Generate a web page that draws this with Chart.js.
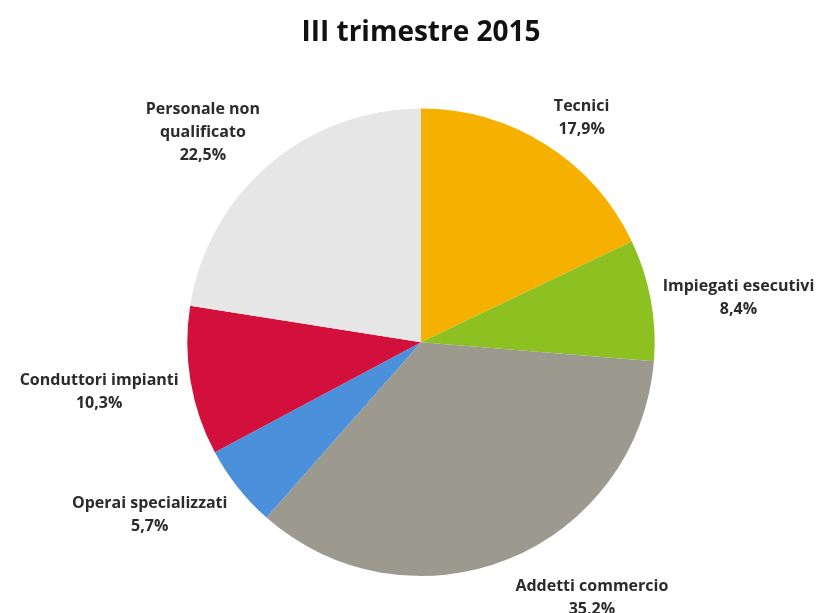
<!DOCTYPE html>
<html>
<head>
<meta charset="utf-8">
<script src="https://cdn.jsdelivr.net/npm/chart.js@4.4.0/dist/chart.umd.min.js"></script>
<style>
    html, body { margin: 0; padding: 0; background: #ffffff; }
    #wrap { width: 822px; height: 613px; }
</style>
</head>
<body>
<div id="wrap"><canvas id="pieChart" width="822" height="613"></canvas></div>
<script>
// Chart data
const categories = ['Tecnici', 'Impiegati esecutivi', 'Addetti commercio', 'Operai specializzati', 'Conduttori impianti', 'Personale non qualificato'];
const labelLines = [['Tecnici'], ['Impiegati esecutivi'], ['Addetti commercio'], ['Operai specializzati'], ['Conduttori impianti'], ['Personale non', 'qualificato']];
const shares = [17.9, 8.4, 35.2, 5.7, 10.3, 22.5];
const sliceColors = ['#F6B000', '#8DC021', '#9C9A8F', '#4A90DA', '#D2103B', '#E6E6E6'];
const chartTitle = 'III trimestre 2015';

const LABEL_FONT = 'bold 16px "Open Sans", sans-serif';
const LINE_H = 23;

// Outside-end labels, placed like a spreadsheet pie
const outsideLabels = {
    id: 'outsideLabels',
    afterDatasetsDraw(chart) {
        const ctx = chart.ctx;
        const meta = chart.getDatasetMeta(0);
        ctx.save();
        ctx.font = LABEL_FONT;
        ctx.fillStyle = '#2b2b2b';
        ctx.textAlign = 'center';
        ctx.textBaseline = 'middle';
        meta.data.forEach((arc, i) => {
            const mid = (arc.startAngle + arc.endAngle) / 2;
            const r = arc.outerRadius + 8;
            const ax = arc.x + Math.cos(mid) * r;
            const ay = arc.y + Math.sin(mid) * r;
            const lines = labelLines[i].concat([shares[i].toFixed(1).replace('.', ',') + '%']);
            const w = Math.max(...lines.map(l => ctx.measureText(l).width));
            const h = lines.length * LINE_H;
            const s = Math.max(-1, Math.min(1, Math.cos(mid) * 3));
            const left = ax - w * (1 - s) / 2 + s * 4;
            const top = ay - h * (1 - Math.sin(mid)) / 2 + 5 + 6 * Math.sin(mid);
            lines.forEach((line, k) => {
                ctx.fillText(line, left + w / 2, top + LINE_H * (k + 0.5));
            });
        });
        ctx.restore();
    }
};

const ctx = document.getElementById('pieChart').getContext('2d');
const chart = new Chart(ctx, {
    type: 'pie',
    data: {
        labels: categories,
        datasets: [{
            data: shares,
            backgroundColor: sliceColors,
            borderWidth: 0
        }]
    },
    options: {
        responsive: false,
        animation: false,
        layout: {
            padding: { left: 187, right: 167, top: 0, bottom: 37 }
        },
        plugins: {
            legend: { display: false },
            tooltip: { enabled: false },
            title: {
                display: true,
                text: chartTitle,
                color: '#111111',
                font: { family: '"Open Sans", sans-serif', size: 28, weight: 'bold', lineHeight: 1.2 },
                padding: { top: 16, bottom: 59 }
            }
        }
    },
    plugins: [outsideLabels]
});
</script>
</body>
</html>
